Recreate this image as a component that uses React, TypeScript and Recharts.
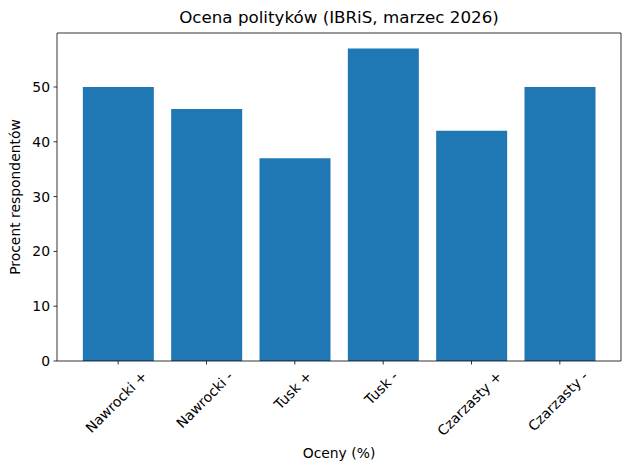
import { ComposedChart, Bar, Line, XAxis, YAxis, Label } from 'recharts';

const categories = ['Nawrocki +', 'Nawrocki -', 'Tusk +', 'Tusk -', 'Czarzasty +', 'Czarzasty -'];
const ratings = [50, 46, 37, 57, 42, 50];
const yTicks = [0, 10, 20, 30, 40, 50];

const chartData = categories.map((name, i) => ({ name, value: ratings[i] }));

const FONT = '"DejaVu Sans", sans-serif';
const TICK_SIZE = 13.9;

let ctx: CanvasRenderingContext2D | null = null;
function textWidth(s: string) {
  if (!ctx) ctx = document.createElement('canvas').getContext('2d');
  if (!ctx) return s.length * 8;
  ctx.font = `${TICK_SIZE}px "DejaVu Sans"`;
  return ctx.measureText(s).width;
}

// matplotlib-style rotated label: bbox centered on the tick, top under the tick
function RotatedTick(props: any) {
  const { x, y, payload } = props;
  const w = textWidth(payload.value);
  const h = 16.2;
  const cx = x - 2;
  const cy = y + (w + h) * 0.3536;
  return (
    <text
      x={cx}
      y={cy}
      textAnchor="middle"
      dominantBaseline="central"
      transform={`rotate(-45, ${cx}, ${cy})`}
      fontFamily={FONT}
      fontSize={TICK_SIZE}
      fill="#000"
    >
      {payload.value}
    </text>
  );
}

function YTitle(props: any) {
  const { viewBox } = props;
  const cx = viewBox.x + 15;
  const cy = viewBox.y + viewBox.height / 2;
  return (
    <text
      x={cx}
      y={cy}
      textAnchor="middle"
      dominantBaseline="central"
      transform={`rotate(-90, ${cx}, ${cy})`}
      fontFamily={FONT}
      fontSize={TICK_SIZE}
      fill="#000"
    >
      Procent respondentów
    </text>
  );
}

const spine = { stroke: '#000', strokeWidth: 0.8 };

export default function App() {
  return (
    <div style={{ position: 'absolute', left: 0, top: 0, width: 630, height: 470, background: '#fff' }}>
      <div
        style={{
          position: 'absolute',
          left: 57,
          width: 564,
          top: 7,
          textAlign: 'center',
          fontFamily: FONT,
          fontSize: 16.7,
          lineHeight: '20px',
          color: '#000',
        }}
      >
        Ocena polityków (IBRiS, marzec 2026)
      </div>
      <ComposedChart
        width={630}
        height={470}
        data={chartData}
        margin={{ top: 32, right: 8, left: 0, bottom: 0 }}
        barCategoryGap="10%"
      >
        <XAxis
          dataKey="name"
          height={109}
          padding={{ left: 17, right: 17 }}
          axisLine={spine}
          tickLine={spine}
          tickSize={3.5}
          tickMargin={3.5}
          interval={0}
          tick={<RotatedTick />}
        >
          <Label
            value="Oceny (%)"
            position="insideBottom"
            offset={12}
            style={{ fontFamily: FONT, fontSize: TICK_SIZE, fill: '#000' }}
          />
        </XAxis>
        <XAxis
          xAxisId="top"
          orientation="top"
          dataKey="name"
          height={1}
          padding={{ left: 17, right: 17 }}
          tick={false}
          tickLine={false}
          axisLine={spine}
        />
        <YAxis
          width={57}
          domain={[0, 59.85]}
          ticks={yTicks}
          allowDataOverflow
          axisLine={spine}
          tickLine={spine}
          tickSize={3.5}
          tickMargin={3.5}
          tick={{ fontFamily: FONT, fontSize: TICK_SIZE, fill: '#000' }}
        >
          <Label content={<YTitle />} />
        </YAxis>
        <YAxis
          yAxisId="right"
          orientation="right"
          width={1}
          domain={[0, 59.85]}
          allowDataOverflow
          tick={false}
          tickLine={false}
          axisLine={spine}
        />
        <Bar dataKey="value" fill="#1f77b4" isAnimationActive={false} />
        {/* invisible series so the top and right spines get drawn */}
        <Line
          dataKey="value"
          xAxisId="top"
          yAxisId="right"
          stroke="none"
          dot={false}
          activeDot={false}
          legendType="none"
          isAnimationActive={false}
        />
      </ComposedChart>
    </div>
  );
}
